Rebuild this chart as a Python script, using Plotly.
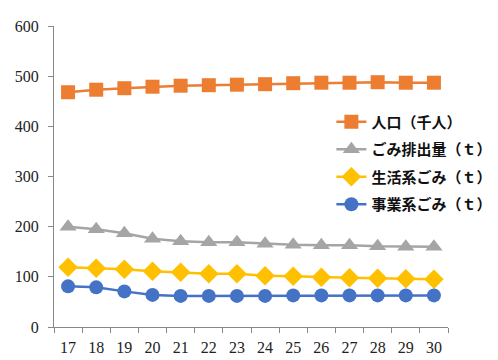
import plotly.graph_objects as go

years = ["17", "18", "19", "20", "21", "22", "23", "24", "25", "26", "27", "28", "29", "30"]
population = [468, 473, 476, 479, 481, 482, 483, 484, 486, 487, 487, 488, 487, 487]
waste_total = [200, 195, 187, 176, 171, 169, 169, 166, 164, 163, 163, 161, 160, 160]
waste_household = [119, 117, 115, 111, 109, 106, 106, 102, 101, 99, 98, 97, 96, 95]
waste_business = [81, 79, 71, 64, 62, 62, 62, 62, 63, 63, 63, 63, 63, 63]

names = ["人口（千人）", "ごみ排出量（ｔ）", "生活系ごみ（ｔ）", "事業系ごみ（ｔ）"]
colors = ["#ED7D31", "#A5A5A5", "#FFC000", "#4472C4"]
symbols = ["square", "triangle-up", "diamond", "circle"]
sizes = [14, 15, 15, 14]
series = [population, waste_total, waste_household, waste_business]

fig = go.Figure()
for i, (name, vals, c, s, sz) in enumerate(zip(names, series, colors, symbols, sizes)):
    fig.add_trace(go.Scatter(
        x=years, y=vals, name=name, mode="lines+markers", legendgroup=f"g{i}",
        line=dict(color=c, width=2.5),
        marker=dict(color=c, symbol=s, size=sz, line=dict(width=0)),
    ))

axis_font = dict(family="Liberation Serif, serif", size=16, color="#222")
fig.update_layout(
    width=490, height=352,
    margin=dict(l=46, r=50, t=18, b=33, autoexpand=False),
    paper_bgcolor="white", plot_bgcolor="white",
    showlegend=True,
    legend=dict(
        x=0.704, y=0.736, xanchor="left", yanchor="top",
        font=dict(family="Noto Sans CJK JP", size=15, color="#111", weight="bold"),
        bgcolor="rgba(255,255,255,0)", borderwidth=0,
        itemwidth=30, tracegroupgap=5,
    ),
    xaxis=dict(
        type="category", range=[-0.5, len(years) - 0.5],
        showgrid=False, showline=True, linecolor="#888", linewidth=1,
        ticks="outside", tickson="boundaries", ticklen=5, tickcolor="#888",
        tickfont=axis_font, zeroline=False, tickangle=0, automargin=False,
        ticklabelstandoff=6,
    ),
    yaxis=dict(
        range=[0, 600], dtick=100, showgrid=False, showline=True, linecolor="#888",
        linewidth=1, ticks="outside", ticklen=5, tickcolor="#888",
        tickfont=axis_font, zeroline=False, automargin=False, ticklabelstandoff=6,
    ),
)

fig.write_html("out.html")
